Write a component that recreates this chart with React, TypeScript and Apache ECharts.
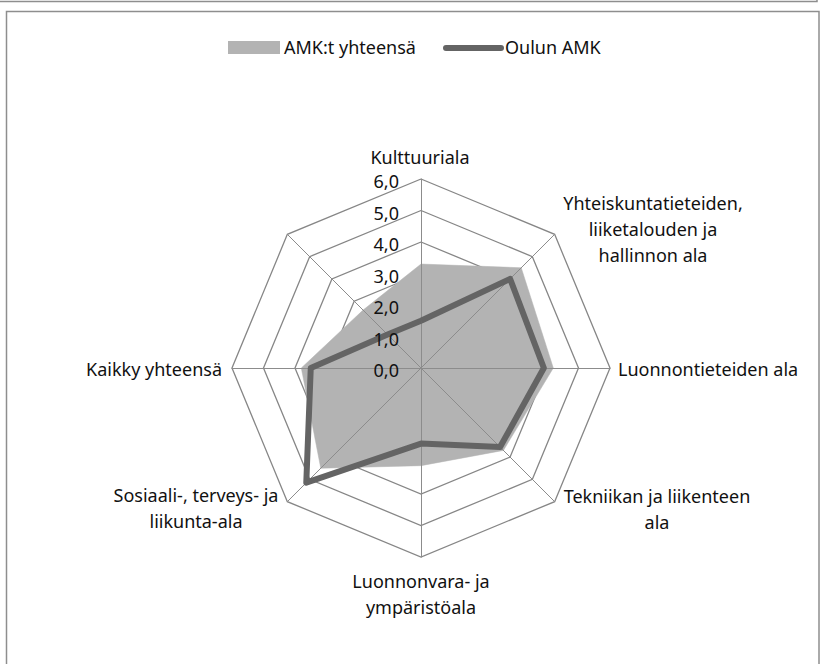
import React, { useEffect, useRef } from "react";
import * as echarts from "echarts";

// Categories in the reference's clockwise order, starting at the top
const categories: string[] = [
  "Kulttuuriala",
  "Yhteiskuntatieteiden,\nliiketalouden ja\nhallinnon ala",
  "Luonnontieteiden ala",
  "Tekniikan ja liikenteen\nala",
  "Luonnonvara- ja\nympäristöala",
  "Sosiaali-, terveys- ja\nliikunta-ala",
  "Kaikky yhteensä",
  "",
];
const amkYhteensa: number[] = [3.3, 4.5, 4.2, 3.7, 3.1, 4.5, 3.8, 2.6];
const oulunAmk: number[] = [1.5, 4.0, 3.9, 3.55, 2.4, 5.15, 3.5, 1.5];
const tickLabels: string[] = ["0,0", "1,0", "2,0", "3,0", "4,0", "5,0", "6,0"];
const seriesNames: string[] = ["AMK:t yhteensä", "Oulun AMK"];
const axisMax = 6;

export default function App() {
  const ref = useRef<HTMLDivElement>(null);
  useEffect(() => {
    if (!ref.current) return;
    document.body.style.margin = "0";
    const chart = echarts.init(ref.current, undefined, { renderer: "svg" });
    const cx = 421;
    const cy = 368;
    const R = 189;
    const font = '18px "Noto Sans"';
    const txt = "#111111";
    // ECharts places indicators counter-clockwise; reorder to get clockwise layout
    const order = [0, 7, 6, 5, 4, 3, 2, 1];
    const indicator = order.map((i) => ({ name: categories[i], min: 0, max: axisMax }));
    const reorder = (arr: number[]) => order.map((i) => arr[i]);

    const labelPos: [number, number, string][] = [
      [cx - 1, cy - 211, "center"],
      [cx + 232, cy - 139, "center"],
      [cx + 197, cy + 1, "left"],
      [cx + 236, cy + 141, "center"],
      [cx, cy + 226, "center"],
      [cx - 225, cy + 140, "center"],
      [cx - 199, cy + 1, "right"],
      [cx - 160, cy - 160, "center"],
    ];
    const graphics: any[] = [];
    graphics.push({
      type: "polyline",
      shape: { points: [[0, 1.5], [817, 1.5], [817, 0]] },
      style: { stroke: "#8e8e8e", lineWidth: 1.5, fill: null },
      silent: true,
    });
    graphics.push({
      type: "rect",
      shape: { x: 6.5, y: 11.5, width: 812.5, height: 670 },
      style: { stroke: "#8e8e8e", lineWidth: 1.5, fill: "#ffffff" },
      z: -10,
      silent: true,
    });
    categories.forEach((c, i) => {
      if (!c) return;
      const [x, y, align] = labelPos[i];
      graphics.push({
        type: "text",
        style: { text: c, x, y, font, fill: txt, align, verticalAlign: "middle", lineHeight: 26 },
        silent: true,
      });
    });
    tickLabels.forEach((t, i) => {
      graphics.push({
        type: "text",
        style: {
          text: t,
          x: cx - 22,
          y: cy - (i * R) / axisMax + 2,
          font,
          fill: txt,
          align: "right",
          verticalAlign: "middle",
        },
        z: 10,
        silent: true,
      });
    });
    // legend
    graphics.push({
      type: "rect",
      shape: { x: 228, y: 41, width: 52, height: 13 },
      style: { fill: "#b3b3b3" },
    });
    graphics.push({
      type: "text",
      style: { text: seriesNames[0], x: 284, y: 47, font, fill: txt, align: "left", verticalAlign: "middle" },
    });
    graphics.push({
      type: "line",
      shape: { x1: 446, y1: 48, x2: 501, y2: 48 },
      style: { stroke: "#646464", lineWidth: 6, lineCap: "round" },
    });
    graphics.push({
      type: "text",
      style: { text: seriesNames[1], x: 505, y: 47, font, fill: txt, align: "left", verticalAlign: "middle" },
    });

    const baseRadar = {
      center: [cx, cy],
      radius: R,
      startAngle: 90,
      shape: "polygon",
      splitNumber: 6,
      indicator,
      axisName: { show: false },
      splitArea: { show: false },
      axisTick: { show: false },
      axisLabel: { show: false },
    };

    chart.setOption({
      animation: false,
      backgroundColor: "transparent",
      radar: [
        {
          ...baseRadar,
          z: 1,
          splitLine: { show: true, lineStyle: { color: "#868686", width: 1.3 } },
          axisLine: { show: false },
        },
        {
          ...baseRadar,
          z: 3,
          splitLine: { show: false },
          axisLine: { show: true, lineStyle: { color: "#8c8c8c", width: 1 } },
        },
      ],
      graphic: graphics,
      series: [
        {
          type: "radar",
          radarIndex: 0,
          z: 2,
          symbol: "none",
          data: [
            {
              name: seriesNames[0],
              value: reorder(amkYhteensa),
              areaStyle: { color: "#b3b3b3", opacity: 1 },
              lineStyle: { width: 0.5, color: "#b3b3b3" },
            },
          ],
        },
        {
          type: "radar",
          radarIndex: 1,
          z: 4,
          symbol: "none",
          data: [
            {
              name: seriesNames[1],
              value: reorder(oulunAmk),
              lineStyle: { width: 6, color: "#646464" },
            },
          ],
        },
      ],
    });
    return () => chart.dispose();
  }, []);
  return <div ref={ref} style={{ width: 825, height: 664 }} />;
}
